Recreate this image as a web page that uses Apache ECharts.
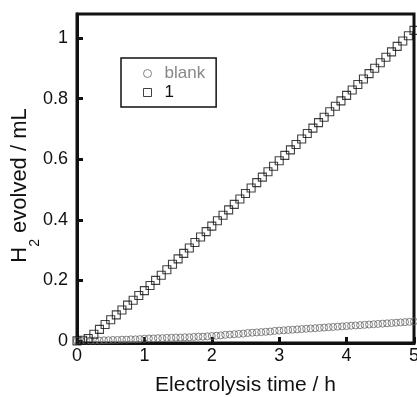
<!DOCTYPE html>
<html>
<head>
<meta charset="utf-8">
<script src="https://cdn.jsdelivr.net/npm/echarts@6/dist/echarts.min.js"></script>
<style>html,body{margin:0;padding:0;background:#fff}#c{width:417px;height:397px}</style>
</head>
<body>
<div id="c"></div>
<script>
// Time (h) for sample "1": every 5 min
var timeOne = [];
for (var k = 0; k <= 60; k++) timeOne.push(k / 12);
var valuesOne = [0, 0.002, 0.008, 0.022, 0.038, 0.054, 0.070, 0.086, 0.102, 0.118, 0.134, 0.150,
  0.166, 0.183, 0.200, 0.217, 0.235, 0.253, 0.271, 0.289, 0.307, 0.325, 0.343, 0.361,
  0.379, 0.397, 0.415, 0.433, 0.451, 0.469, 0.487, 0.505, 0.523, 0.541, 0.559, 0.577,
  0.595, 0.613, 0.631, 0.649, 0.667, 0.685, 0.703, 0.721, 0.739, 0.757, 0.775, 0.793,
  0.811, 0.829, 0.847, 0.865, 0.883, 0.901, 0.919, 0.937, 0.955, 0.973, 0.991, 1.008, 1.026];
// Time (h) for blank: every 4 min
var timeBlank = [];
for (var j = 0; j <= 75; j++) timeBlank.push(j / 15);
var valuesBlank = [0, 0.000, 0.000, 0.001, 0.001, 0.001, 0.002, 0.002, 0.003, 0.003, 0.004, 0.004, 0.005, 0.005, 0.006, 0.007,
  0.008, 0.008, 0.009, 0.009, 0.010, 0.010, 0.011, 0.011, 0.012, 0.012, 0.013, 0.014, 0.014, 0.015, 0.016,
  0.017, 0.018, 0.020, 0.021, 0.022, 0.023, 0.024, 0.026, 0.027, 0.028, 0.029, 0.030, 0.031, 0.033, 0.034,
  0.035, 0.036, 0.037, 0.038, 0.039, 0.040, 0.041, 0.042, 0.043, 0.044, 0.045, 0.046, 0.047, 0.048, 0.049,
  0.050, 0.051, 0.052, 0.053, 0.054, 0.055, 0.056, 0.057, 0.058, 0.059, 0.060, 0.061, 0.062, 0.063, 0.064];
var yTicks = [0, 0.2, 0.4, 0.6, 0.8, 1];
var xTicks = [0, 1, 2, 3, 4, 5];
var seriesNames = ['blank', '1'];

function pairs(xs, ys) { return xs.map(function (x, i) { return [x, ys[i]]; }); }

var font = '"Liberation Sans", Arial, Helvetica, sans-serif';
var chart = echarts.init(document.getElementById('c'));
chart.setOption({
  animation: false,
  textStyle: { fontFamily: font },
  grid: { left: 77, right: 3, top: 14, bottom: 54, show: true, borderColor: '#111', borderWidth: 3,
    backgroundColor: 'transparent', containLabel: false, outerBoundsMode: 'none' },
  xAxis: {
    type: 'value', min: 0, max: 5, interval: 1,
    name: 'Electrolysis time / h', nameLocation: 'middle', nameGap: 32, nameMoveOverlap: false,
    nameTextStyle: { fontSize: 21, color: '#111', fontFamily: font },
    axisLine: { onZero: false, lineStyle: { color: '#111', width: 3 } },
    axisTick: { inside: true, length: 6, lineStyle: { width: 3, color: '#111' } },
    axisLabel: { fontSize: 18, color: '#111', margin: 4, fontFamily: font, showMaxLabel: true, hideOverlap: false },
    splitLine: { show: false }
  },
  yAxis: {
    type: 'value', min: -0.007, max: 1.08,
    name: '{a|H}{s|2}{a| evolved / mL}', nameLocation: 'middle', nameGap: 44, nameMoveOverlap: false,
    nameTextStyle: {
      color: '#111', fontFamily: font, padding: [0, 14, 0, 0],
      rich: {
        a: { fontSize: 22, color: '#111', fontFamily: font, lineHeight: 26 },
        s: { fontSize: 14, color: '#111', fontFamily: font, lineHeight: 26, verticalAlign: 'bottom', padding: [0, 0, -9, 0] }
      }
    },
    axisLine: { lineStyle: { color: '#111', width: 3 } },
    axisTick: { inside: true, length: 6, lineStyle: { width: 3, color: '#111' }, customValues: yTicks },
    axisLabel: { fontSize: 18, color: '#111', margin: 9, fontFamily: font, customValues: yTicks },
    splitLine: { show: false }
  },
  legend: {
    orient: 'vertical', left: 121, top: 58,
    borderColor: '#111', borderWidth: 1.5, padding: [7, 11, 6, 22],
    itemWidth: 8, itemHeight: 8, itemGap: 2,
    textStyle: { fontSize: 17, fontFamily: font, padding: [0, 0, 0, 8] },
    data: [
      { name: seriesNames[0], icon: 'circle', textStyle: { color: '#888' }, itemStyle: { color: '#fff', borderColor: '#666', borderWidth: 1 } },
      { name: seriesNames[1], icon: 'rect', textStyle: { color: '#111' }, itemStyle: { color: '#fff', borderColor: '#111', borderWidth: 1 } }
    ]
  },
  series: [
    {
      name: seriesNames[0], type: 'scatter', symbol: 'circle', symbolSize: 7,
      itemStyle: { color: 'rgba(0,0,0,0)', borderColor: '#666', borderWidth: 1 },
      data: pairs(timeBlank, valuesBlank), z: 2
    },
    {
      name: seriesNames[1], type: 'scatter', symbol: 'rect', symbolSize: 8,
      itemStyle: { color: 'rgba(0,0,0,0)', borderColor: '#111', borderWidth: 1.1 },
      data: pairs(timeOne, valuesOne), z: 3
    }
  ]
});
</script>
</body>
</html>
